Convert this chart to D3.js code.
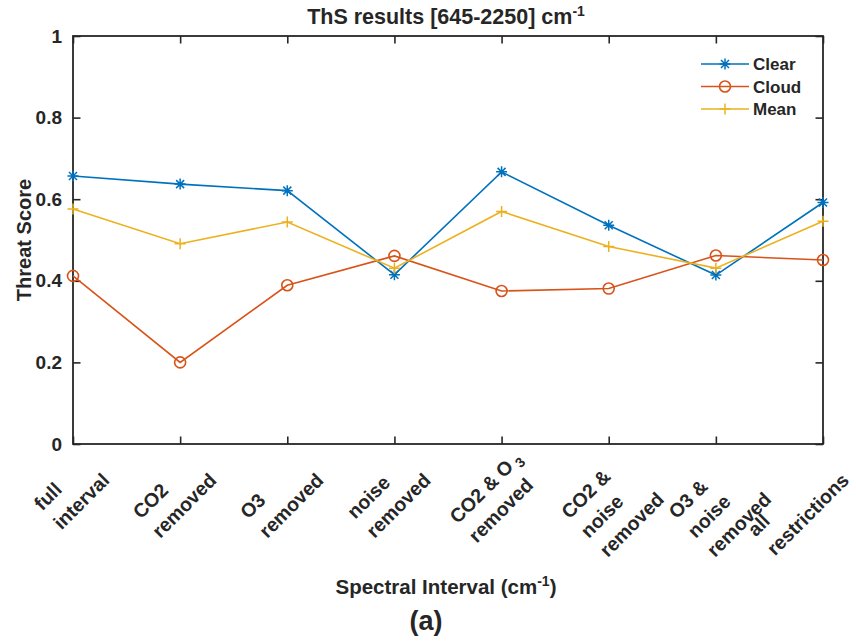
<!DOCTYPE html>
<html>
<head>
<meta charset="utf-8">
<script src="https://cdn.jsdelivr.net/npm/d3@7/dist/d3.min.js"></script>
<style>
  html, body { margin: 0; padding: 0; background: #fff; }
  svg { display: block; }
  text { font-family: "Liberation Sans", Arial, sans-serif; font-weight: bold; fill: #262626; }
</style>
</head>
<body>
<svg id="chart" width="856" height="641"></svg>
<script>
// ---- data ----
const categories = [
  ["full", "interval"],
  ["CO2", "removed"],
  ["O3", "removed"],
  ["noise", "removed"],
  ["CO2 & O_3", "removed"],
  ["CO2 &", "noise", "removed"],
  ["O3 &", "noise", "removed"],
  ["all", "restrictions"]
];
const clearValues = [0.657, 0.637, 0.621, 0.415, 0.667, 0.536, 0.414, 0.592];
const cloudValues = [0.412, 0.200, 0.389, 0.461, 0.375, 0.381, 0.462, 0.451];
const meanValues  = [0.576, 0.491, 0.544, 0.431, 0.570, 0.484, 0.431, 0.546];
const seriesNames = ["Clear", "Cloud", "Mean"];
const yTicks = [0, 0.2, 0.4, 0.6, 0.8, 1];
const yTickLabels = ["0", "0.2", "0.4", "0.6", "0.8", "1"];

const seriesList = [
  { name: seriesNames[0], values: clearValues, color: "#0072BD", marker: "asterisk" },
  { name: seriesNames[1], values: cloudValues, color: "#D95319", marker: "circle" },
  { name: seriesNames[2], values: meanValues,  color: "#EDB120", marker: "plus" }
];

// ---- layout ----
const svg = d3.select("#chart");
const L = 73, R = 823, T = 36, B = 444;
const x = d3.scaleLinear().domain([0, categories.length - 1]).range([L, R]);
const y = d3.scaleLinear().domain([0, 1]).range([B, T]);
const axisColor = "#262626";
const tickLen = 7.5;

// axes box + ticks
const gAxes = svg.append("g");
const leftAxis = d3.axisLeft(y).tickValues(yTicks).tickSize(-tickLen).tickPadding(11)
  .tickFormat((d, i) => yTickLabels[i]);
const gl = gAxes.append("g").attr("transform", `translate(${L},0)`).call(leftAxis);
gl.selectAll("text").style("font-size", "19px").attr("fill", axisColor);
const rightAxis = d3.axisRight(y).tickValues(yTicks).tickSize(-tickLen).tickFormat("");
gAxes.append("g").attr("transform", `translate(${R},0)`).call(rightAxis);
const idx = d3.range(categories.length);
const bottomAxis = d3.axisBottom(x).tickValues(idx).tickSize(-tickLen).tickFormat("");
gAxes.append("g").attr("transform", `translate(0,${B})`).call(bottomAxis);
const topAxis = d3.axisTop(x).tickValues(idx).tickSize(-tickLen).tickFormat("");
gAxes.append("g").attr("transform", `translate(0,${T})`).call(topAxis);
gAxes.selectAll(".domain").remove();
gAxes.selectAll(".tick line").attr("stroke", axisColor).attr("stroke-width", 1.6);
gAxes.append("rect").attr("x", L).attr("y", T).attr("width", R - L).attr("height", B - T)
  .attr("fill", "none").attr("stroke", axisColor).attr("stroke-width", 1.8);

// x tick labels (rotated, left-aligned lines, block right end at tick)
const lineH = 27, firstBase = 26, maxRight = 853;
categories.forEach((lines, i) => {
  const g = svg.append("g").attr("transform", `translate(${x(i)},${B}) rotate(-45)`);
  const texts = lines.map((ln, j) => {
    const t = g.append("text").attr("y", firstBase + j * lineH).style("font-size", "19.5px")
      .attr("fill", axisColor);
    const parts = ln.split("_");
    t.append("tspan").text(parts[0]);
    if (parts.length > 1) {
      t.append("tspan").attr("dx", 4).attr("dy", 5).style("font-size", "14px").text(parts[1]);
    }
    return t;
  });
  const maxW = d3.max(texts, t => t.node().getComputedTextLength());
  texts.forEach(t => t.attr("x", -maxW));
  // keep the label inside the figure (shift it left)
  const box = g.node().getBoundingClientRect();
  if (box.right > maxRight) {
    g.attr("transform", `translate(${x(i) - (box.right - maxRight)},${B}) rotate(-45)`);
  }
});

// lines + markers
const line = d3.line().x((d, i) => x(i)).y(d => y(d));
seriesList.forEach(s => {
  svg.append("path").datum(s.values).attr("d", line).attr("fill", "none")
    .attr("stroke", s.color).attr("stroke-width", 1.6);
});

function drawMarker(g, type, cx, cy, color) {
  if (type === "circle") {
    g.append("circle").attr("cx", cx).attr("cy", cy).attr("r", 5.5)
      .attr("fill", "none").attr("stroke", color).attr("stroke-width", 1.6);
  } else if (type === "plus") {
    const h = 5.5;
    g.append("path").attr("d", `M${cx - h},${cy}H${cx + h}M${cx},${cy - h}V${cy + h}`)
      .attr("stroke", color).attr("stroke-width", 1.5).attr("fill", "none");
  } else {
    const h = 5.5, d = 4;
    g.append("path").attr("d",
      `M${cx - h},${cy}H${cx + h}M${cx},${cy - h}V${cy + h}M${cx - d},${cy - d}L${cx + d},${cy + d}M${cx - d},${cy + d}L${cx + d},${cy - d}`)
      .attr("stroke", color).attr("stroke-width", 1.5).attr("fill", "none");
  }
}
seriesList.forEach(s => {
  const g = svg.append("g");
  s.values.forEach((v, i) => drawMarker(g, s.marker, x(i), y(v), s.color));
});

// legend
const legX0 = 701, legX1 = 749, legY0 = 64, legDY = 22.5;
seriesList.forEach((s, i) => {
  const ly = legY0 + i * legDY;
  const g = svg.append("g");
  g.append("line").attr("x1", legX0).attr("x2", legX1).attr("y1", ly).attr("y2", ly)
    .attr("stroke", s.color).attr("stroke-width", 1.6);
  drawMarker(g, s.marker, (legX0 + legX1) / 2, ly, s.color);
  g.append("text").attr("x", legX1 + 4).attr("y", ly + 6).style("font-size", "17px")
    .attr("fill", axisColor).text(s.name);
});

// title
const title = svg.append("text").attr("x", 446).attr("y", 24)
  .attr("text-anchor", "middle").style("font-size", "21.5px");
title.append("tspan").text("ThS results [645-2250] cm");
title.append("tspan").attr("dy", -8).style("font-size", "14px").text("-1");

// y label
svg.append("text").attr("transform", `translate(31,${(T + B) / 2}) rotate(-90)`)
  .attr("text-anchor", "middle").style("font-size", "20px").text("Threat Score");

// x label
const xl = svg.append("text").attr("x", 446).attr("y", 594)
  .attr("text-anchor", "middle").style("font-size", "20.5px");
xl.append("tspan").text("Spectral Interval (cm");
xl.append("tspan").attr("dy", -8).style("font-size", "14px").text("-1");
xl.append("tspan").attr("dy", 8).text(")");

// panel label
svg.append("text").attr("x", 426).attr("y", 630).attr("text-anchor", "middle")
  .style("font-size", "27px").attr("fill", "#111").text("(a)");
</script>
</body>
</html>
